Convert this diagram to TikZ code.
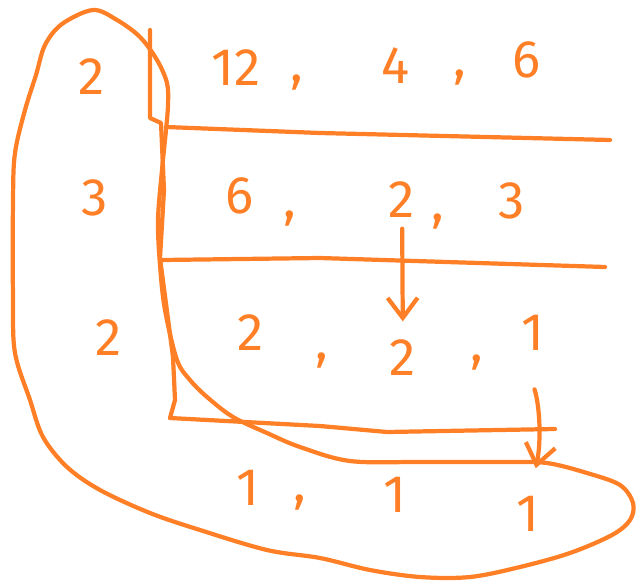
\documentclass[tikz,border=0pt]{standalone}
\usepackage{fontspec}
\setmainfont{Fira Sans}
\usepackage{xcolor}
\usetikzlibrary{arrows.meta}
\definecolor{pen}{RGB}{255,127,39}

\begin{document}
\begin{tikzpicture}[
  x=0.01cm, y=-0.01cm,
  ink/.style={draw=pen,line width=1.2pt,line cap=round,line join=round},
  num/.style={text=pen,inner sep=0pt,font=\fontsize{15}{18}\selectfont},
  >={Straight Barb[length=0.2cm,width=0.3cm]}
]
\useasboundingbox (0,0) rectangle (640,582);
% Divisors (left column)
\node[num] (d1) at (92,77) {2};
\node[num] (d2) at (95,198) {3};
\node[num] (d3) at (109,338) {2};
% Row 1: 12, 4, 6
\node[num] (a1) at (236,68) {12};
\node[num] (ca1) at (297,83) {,};
\node[num] (a2) at (396,66) {4};
\node[num] (ca2) at (460,78) {,};
\node[num] (a3) at (527,60) {6};
% Row 2: 6, 2, 3
\node[num] (b1) at (240,196) {6};
\node[num] (cb1) at (290,219) {,};
\node[num] (b2) at (402,200) {2};
\node[num] (cb2) at (438,222) {,};
\node[num] (b3) at (512,201) {3};
% Row 3: 2, 2, 1
\node[num] (c1) at (251,333) {2};
\node[num] (cc1) at (322,361) {,};
\node[num] (c2) at (403,358) {2};
\node[num] (cc2) at (477,363) {,};
\node[num] (c3) at (533,333) {1};
% Row 4: 1, 1, 1
\node[num] (e1) at (248,488) {1};
\node[num] (ce1) at (300,503) {,};
\node[num] (e2) at (395,495) {1};
\node[num] (e3) at (528,514) {1};
% Division bar and rules
\draw[ink] (150,30) -- (150,118) -- (161,123) -- (164,190) -- (160,258)
  -- (173,357) -- (175,400) -- (170,418);
\draw[ink] (166,127) -- (320,133) -- (610,140);
\draw[ink] (162,260) -- (320,258) -- (605,267);
\draw[ink] (170,418) -- (320,426) -- (387,432) -- (555,429);
% Loop round the divisors and the last row
\draw[ink] plot[smooth cycle,tension=0.55] coordinates {
  (93,10) (117,20) (140,37) (157,60) (167,83) (168,105) (166,130)
  (162,170) (158,220) (160,265) (165,310) (177,360) (190,380)
  (207,397) (233,417) (267,433) (300,447) (350,461) (420,462)
  (507,462) (547,463) (587,473) (620,485) (633,503) (630,520)
  (612,535) (570,553) (520,567) (470,577) (420,577) (370,570)
  (320,558) (267,550) (200,530) (150,513) (100,490) (67,467)
  (43,437) (30,400) (15,353) (13,300) (13,200) (15,153) (25,110)
  (36,75) (45,45) (62,24)};
% Carried-down quotients
\draw[ink,->,shorten <=0.1cm,shorten >=0.18cm] (b2) -- (c2);
\draw[ink,->,shorten <=0.4cm,shorten >=0.28cm]
  ([xshift=-0.11cm]c3.south) to[bend left=15] ([xshift=0.02cm]e3.north);
\end{tikzpicture}
\end{document}
